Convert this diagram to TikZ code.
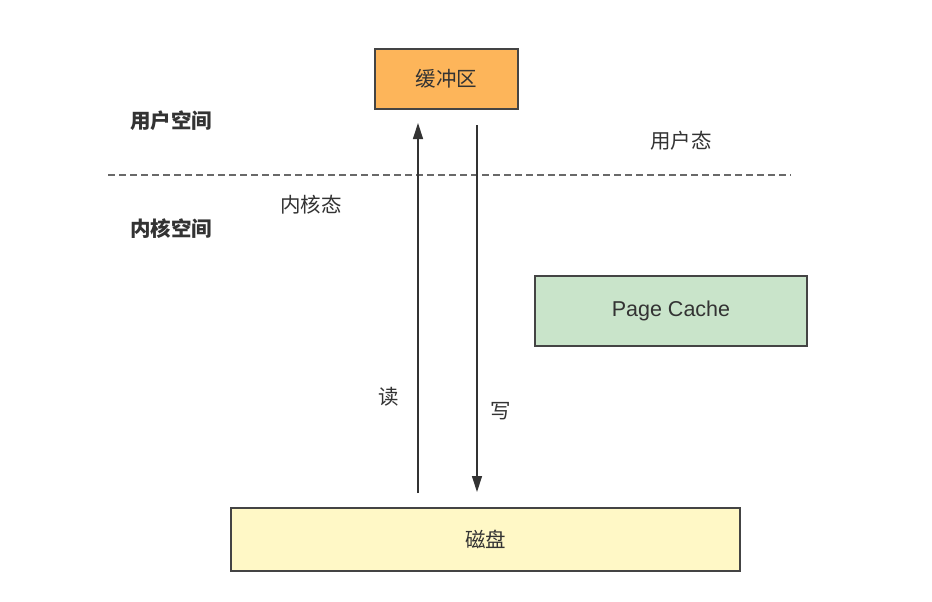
\documentclass[tikz,border=0pt]{standalone}
\usepackage{fontspec}
\setmainfont{Noto Sans CJK SC}
\newfontfamily\latinf{Liberation Sans}
\usetikzlibrary{arrows.meta}
\definecolor{txt}{HTML}{333333}
\definecolor{edge}{HTML}{444444}
\definecolor{bufc}{HTML}{FDB55A}
\definecolor{pcc}{HTML}{C9E4CA}
\definecolor{diskc}{HTML}{FFF8C6}
\tikzset{
  boxs/.style={draw=edge, line width=1.2pt, inner sep=0pt, text=txt, font=\fontsize{20.5}{22}\selectfont},
  lbl/.style={text=txt, font=\fontsize{20.5}{22}\selectfont, inner sep=0pt},
  blbl/.style={text=txt, font=\fontsize{20.5}{22}\selectfont\bfseries, inner sep=0pt},
  arr/.style={draw=txt, line width=1.3pt, -{Triangle[length=16pt,width=10pt]}},
}
\begin{document}
\begin{tikzpicture}[x=1pt,y=-1pt]
\useasboundingbox[fill=white] (0,0) rectangle (932,602);
\node[boxs, fill=bufc, minimum width=143pt, minimum height=60pt] (buf) at (446.5,79) {缓冲区};
\node[boxs, fill=pcc, minimum width=272pt, minimum height=70pt, font=\latinf\fontsize{21.5}{23}\selectfont] (pc) at (671,311) {Page Cache};
\node[boxs, fill=diskc, minimum width=509pt, minimum height=63pt] (disk) at (485.5,539.5) {磁盘};
\coordinate (dl) at (108,175);
\coordinate (dr) at (791,175);
\draw[draw=edge!80, line width=1.1pt, dash pattern=on 7pt off 4pt] (dl) -- (dr);
\node[blbl] (us) at (171,121) {用户空间};
\node[blbl] (ks) at (171,229) {内核空间};
\node[lbl] (um) at (681,141) {用户态};
\node[lbl] (km) at (311,205) {内核态};
\coordinate (rs) at (418,493);
\coordinate (re) at (418,123);
\coordinate (ws) at (477,125);
\coordinate (we) at (477,492);
\draw[arr] (rs) -- (re);
\draw[arr] (ws) -- (we);
\node[lbl] (rd) at (389,397) {读};
\node[lbl] (wr) at (501,411) {写};
\end{tikzpicture}
\end{document}
